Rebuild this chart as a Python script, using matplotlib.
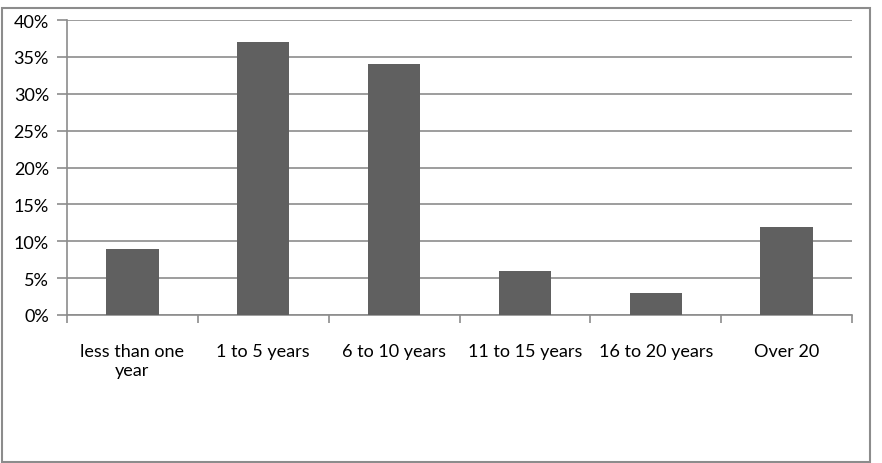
import matplotlib.pyplot as plt
from matplotlib.patches import Rectangle
from matplotlib.ticker import PercentFormatter
import numpy as np

categories = ['less than one\nyear', '1 to 5 years', '6 to 10 years',
              '11 to 15 years', '16 to 20 years', 'Over 20']
values = [9, 37, 34, 6, 3, 12]

plt.rcParams['font.family'] = ['Lato', 'DejaVu Sans']
fig = plt.figure(figsize=(8.82, 4.64), dpi=100)
ax = fig.add_axes([67/882, 1-316/464, (852-67)/882, (316-21)/464])

grid_c = '#8c8c8c'
x = np.arange(len(categories))
ax.bar(x, values, width=0.4, color='#606060', zorder=3)

ax.set_xlim(-0.5, len(categories)-0.5)
ax.set_ylim(0, 40)
ax.set_yticks(range(0, 41, 5))
ax.yaxis.set_major_formatter(PercentFormatter(decimals=0))
ax.grid(axis='y', color=grid_c, linewidth=1.2, zorder=0)

ax.set_xticks(x)
ax.set_xticklabels(categories, fontsize=13, linespacing=1.25)
ax.set_xticks(np.arange(-0.5, len(categories), 1), minor=True)
ax.tick_params(axis='x', which='major', length=0, pad=20)
ax.tick_params(axis='x', which='minor', length=6, color=grid_c, width=1.2)
ax.tick_params(axis='y', length=7, color=grid_c, width=1.2, labelsize=13, pad=6)

for s in ['top', 'right']:
    ax.spines[s].set_visible(False)
for s in ['left', 'bottom']:
    ax.spines[s].set_color(grid_c)
    ax.spines[s].set_linewidth(1.2)

fig.patches.append(Rectangle((2/882, 1/464), 868/882, 454/464, transform=fig.transFigure,
                             fill=False, edgecolor='#8c8c8c', linewidth=1.5))

fig.savefig('out.png', dpi=100)
